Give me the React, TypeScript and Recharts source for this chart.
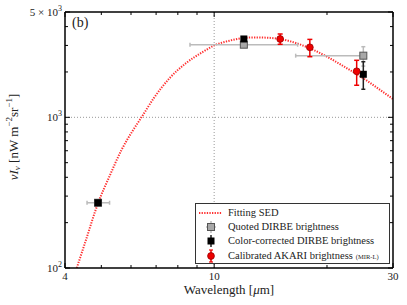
import React from 'react'
import { ComposedChart, Line, Scatter, XAxis, YAxis, ErrorBar, ReferenceLine } from 'recharts'

// fitted SED curve
const sedWavelength = [4.3, 4.52, 4.91, 5.25, 5.66, 6.08, 6.4, 6.9, 7.6, 8.4, 9.35, 10, 11, 12.2, 13, 14, 15, 16.6, 18, 20, 22, 25, 27.5, 30]
const sedBrightness = [100, 146, 273, 403, 607, 824, 1000, 1340, 1816, 2283, 2726, 3000, 3225, 3377, 3390, 3370, 3311, 3099, 2870, 2525, 2202, 1816, 1540, 1323]

// DIRBE bands
const dirbeWavelength = [4.9, 12, 25]
const quotedBrightness = [271, 3034, 2565]
const quotedErrX = [[0.32, 0.36], [3.38, 4.7], [8.5, 0]]
const quotedErrY = [[0, 0], [0, 0], [377, 377]]
const correctedBrightness = [271, 3311, 1930]
const correctedErrY = [[0, 0], [0, 0], [395, 409]]

// AKARI MIR-L bands
const akariWavelength = [15, 18, 24]
const akariBrightness = [3311, 2915, 2021]
const akariErrY = [[259, 262], [390, 375], [389, 369]]

const xTicks = [4, 5, 6, 7, 8, 9, 10, 20, 30]
const xMajor = [4, 10, 30]
const yTicks = [100, 200, 300, 400, 500, 600, 700, 800, 900, 1000, 2000, 3000, 4000, 5000]
const yLabels: Record<number, [string, string]> = { 100: ['10', '2'], 1000: ['10', '3'], 5000: ['5 × 10', '3'] }

const sedData = sedWavelength.map((x, i) => ({ x, y: sedBrightness[i] }))
const quotedData = dirbeWavelength.map((x, i) => ({ x, y: quotedBrightness[i], ex: quotedErrX[i], ey: quotedErrY[i] }))
const correctedData = dirbeWavelength.map((x, i) => ({ x, y: correctedBrightness[i], ey: correctedErrY[i] }))
const akariData = akariWavelength.map((x, i) => ({ x, y: akariBrightness[i], ey: akariErrY[i] }))

const FONT = '"Liberation Serif", "DejaVu Serif", serif'
const INK = '#222'
const txt = { fontFamily: FONT }

const BottomTick = ({ x, y, payload }: any) => {
  const major = xMajor.includes(payload.value)
  return (
    <g>
      <line x1={x} x2={x} y1={y} y2={y - (major ? 5 : 3)} stroke="#000" />
      {major && (
        <text x={x} y={y + 12} textAnchor="middle" fontSize={11} style={txt} fill={INK}>
          {payload.value}
        </text>
      )}
    </g>
  )
}

const TopTick = ({ x, y, payload }: any) => {
  const major = xMajor.includes(payload.value)
  return <line x1={x} x2={x} y1={y} y2={y + (major ? 5 : 3)} stroke="#000" />
}

const LeftTick = ({ x, y, payload }: any) => {
  const label = yLabels[payload.value]
  return (
    <g>
      <line x1={x} x2={x + (label ? 5 : 3)} y1={y} y2={y} stroke="#000" />
      {label && (
        <text x={x - 3} y={y + 4} textAnchor="end" fontSize={11} style={txt} fill={INK}>
          {label[0]}
          <tspan dy={-5} fontSize={8}>{label[1]}</tspan>
        </text>
      )}
    </g>
  )
}

const RightTick = ({ x, y, payload }: any) => {
  const major = yLabels[payload.value] !== undefined
  return <line x1={x} x2={x - (major ? 5 : 3)} y1={y} y2={y} stroke="#000" />
}

const XLabel = ({ viewBox }: any) => (
  <text x={viewBox.x + viewBox.width / 2} y={viewBox.y + 26} textAnchor="middle" fontSize={13} style={txt} fill={INK}>
    Wavelength [<tspan fontStyle="italic">μ</tspan>m]
  </text>
)

const YLabel = ({ viewBox }: any) => {
  const cx = 15
  const cy = viewBox.y + viewBox.height / 2 - 3
  return (
    <text x={cx} y={cy} transform={`rotate(-90 ${cx} ${cy})`} textAnchor="middle" dominantBaseline="middle" fontSize={13} style={txt} fill={INK}>
      <tspan fontStyle="italic">νI</tspan>
      <tspan fontStyle="italic" fontSize={9} dy={3}>ν</tspan>
      <tspan dy={-3}> [nW m</tspan>
      <tspan fontSize={9} dy={-5}>−2</tspan>
      <tspan dy={5}>sr</tspan>
      <tspan fontSize={9} dy={-5}>−1</tspan>
      <tspan dy={5}>]</tspan>
    </text>
  )
}

const GraySquare = ({ cx, cy }: any) => (
  <rect x={cx - 3.5} y={cy - 3.5} width={7} height={7} fill="#a8a8a8" stroke="#555" strokeWidth={1} />
)
const BlackSquare = ({ cx, cy }: any) => <rect x={cx - 3.5} y={cy - 3.5} width={7} height={7} fill="#000" />
const RedDot = ({ cx, cy }: any) => <circle cx={cx} cy={cy} r={3.4} fill="#ee0000" stroke="#900" strokeWidth={0.8} />

const legendRows = [
  { key: 'sed', top: 9, text: 'Fitting SED' },
  { key: 'quoted', top: 23, text: 'Quoted DIRBE brightness' },
  { key: 'corrected', top: 37, text: 'Color-corrected DIRBE brightness' },
  { key: 'akari', top: 52, text: 'Calibrated AKARI brightness' },
]

const LegendMark = ({ kind }: { kind: string }) => (
  <svg width={26} height={14} style={{ position: 'absolute', left: 1, top: -7 }}>
    {kind === 'sed' && <line x1={2} x2={25} y1={7} y2={7} stroke="#ff3030" strokeWidth={2} strokeDasharray="1.3 1.3" />}
    {kind === 'quoted' && (
      <g>
        <line x1={9} x2={19} y1={7} y2={7} stroke="#bbb" strokeWidth={1.5} />
        <line x1={14} x2={14} y1={1} y2={13} stroke="#bbb" strokeWidth={1.5} />
        <rect x={10.5} y={3.5} width={7} height={7} fill="#a8a8a8" stroke="#555" />
      </g>
    )}
    {kind === 'corrected' && (
      <g>
        <line x1={14} x2={14} y1={1} y2={13} stroke="#222" strokeWidth={1.5} />
        <rect x={10.5} y={3.5} width={7} height={7} fill="#000" />
      </g>
    )}
    {kind === 'akari' && (
      <g>
        <line x1={14} x2={14} y1={1} y2={13} stroke="#ee0000" strokeWidth={1.5} />
        <line x1={12} x2={16} y1={1} y2={1} stroke="#ee0000" strokeWidth={1.2} />
        <line x1={12} x2={16} y1={13} y2={13} stroke="#ee0000" strokeWidth={1.2} />
        <circle cx={14} cy={7} r={3.4} fill="#ee0000" stroke="#900" strokeWidth={0.8} />
      </g>
    )}
  </svg>
)

export default function App() {
  return (
    <div style={{ position: 'absolute', left: 0, top: 0, width: 407, height: 305, background: '#fff', fontFamily: FONT }}>
      <ComposedChart width={407} height={305} margin={{ top: 2, right: 4, bottom: 7, left: 5 }} style={txt}>
        <XAxis
          dataKey="x"
          type="number"
          scale="log"
          domain={[4, 30]}
          allowDataOverflow
          ticks={xTicks}
          interval={0}
          height={30}
          tickSize={0}
          tickMargin={0}
          tickLine={false}
          axisLine={{ stroke: '#000', strokeWidth: 1.5 }}
          tick={<BottomTick />}
          label={<XLabel />}
        />
        <XAxis
          xAxisId="top"
          orientation="top"
          dataKey="x"
          type="number"
          scale="log"
          domain={[4, 30]}
          allowDataOverflow
          ticks={xTicks}
          interval={0}
          height={10}
          tickSize={0}
          tickMargin={0}
          tickLine={false}
          axisLine={{ stroke: '#000', strokeWidth: 1.5 }}
          tick={<TopTick />}
        />
        <YAxis
          type="number"
          scale="log"
          domain={[100, 5000]}
          allowDataOverflow
          ticks={yTicks}
          interval={0}
          width={60}
          tickSize={0}
          tickMargin={0}
          tickLine={false}
          axisLine={{ stroke: '#000', strokeWidth: 1.5 }}
          tick={<LeftTick />}
          label={<YLabel />}
        />
        <YAxis
          yAxisId="right"
          orientation="right"
          type="number"
          scale="log"
          domain={[100, 5000]}
          allowDataOverflow
          ticks={yTicks}
          interval={0}
          width={10}
          tickSize={0}
          tickMargin={0}
          tickLine={false}
          axisLine={{ stroke: '#000', strokeWidth: 1.5 }}
          tick={<RightTick />}
        />
        <ReferenceLine x={10} stroke="#999" strokeDasharray="1 2" />
        <ReferenceLine y={1000} stroke="#999" strokeDasharray="1 2" />
        <Line
          data={sedData}
          dataKey="y"
          type="monotone"
          stroke="#ff3030"
          strokeWidth={2}
          strokeDasharray="1.3 1.3"
          dot={false}
          isAnimationActive={false}
        />
        <Scatter data={quotedData} dataKey="y" shape={<GraySquare />} isAnimationActive={false}>
          <ErrorBar dataKey="ex" direction="x" stroke="#bbb" strokeWidth={1.5} width={2} />
          <ErrorBar dataKey="ey" direction="y" stroke="#bbb" strokeWidth={1.5} width={2} />
        </Scatter>
        <Scatter data={correctedData} dataKey="y" shape={<BlackSquare />} isAnimationActive={false}>
          <ErrorBar dataKey="ey" direction="y" stroke="#222" strokeWidth={1.5} width={2} />
        </Scatter>
        <Scatter data={akariData} dataKey="y" shape={<RedDot />} isAnimationActive={false}>
          <ErrorBar dataKey="ey" direction="y" stroke="#ee0000" strokeWidth={1.5} width={2.5} />
        </Scatter>
      </ComposedChart>

      <div style={{ position: 'absolute', left: 72, top: 15, fontSize: 14, color: INK }}>(b)</div>

      <div
        style={{
          position: 'absolute',
          left: 195,
          top: 203,
          width: 193,
          height: 59,
          border: '1px solid #333',
          background: '#fff',
          fontSize: 10.5,
          color: INK,
        }}
      >
        {legendRows.map((r) => (
          <div key={r.key} style={{ position: 'absolute', left: 0, top: r.top, width: '100%' }}>
            <LegendMark kind={r.key} />
            <div style={{ position: 'absolute', left: 32, top: -7, lineHeight: '13px', whiteSpace: 'nowrap' }}>
              {r.text}
              {r.key === 'akari' && <span style={{ fontSize: 6.5, marginLeft: 3 }}>(MIR-L)</span>}
            </div>
          </div>
        ))}
      </div>
    </div>
  )
}
